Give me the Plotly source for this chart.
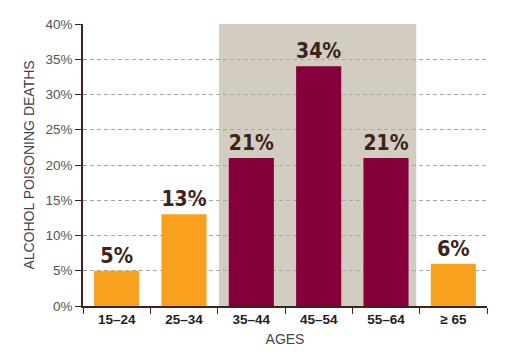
import plotly.graph_objects as go

categories = ["15–24", "25–34", "35–44", "45–54", "55–64", "≥ 65"]
values = [5, 13, 21, 34, 21, 6]
labels = ["5%", "13%", "21%", "34%", "21%", "6%"]
highlight = [False, False, True, True, True, False]

orange = "#F7A11E"
maroon = "#85003A"
colors = [maroon if h else orange for h in highlight]

fig = go.Figure()
fig.add_trace(go.Bar(
    x=categories, y=values, marker=dict(color=colors, line=dict(width=0)),
    width=0.67, text=labels, textposition="outside", cliponaxis=False,
    textfont=dict(family="DejaVu Sans Condensed", size=21.5, color="#3B2419", weight="bold"),
    hoverinfo="skip",
))

fig.add_shape(type="rect", xref="x", yref="y", x0=1.52, x1=4.45, y0=0, y1=40,
              fillcolor="#D3CCC1", line=dict(width=0), layer="below")

fig.update_layout(
    width=520, height=354,
    margin=dict(l=83, r=33, t=24, b=48),
    paper_bgcolor="white", plot_bgcolor="white",
    showlegend=False,
    font=dict(family="Liberation Sans", color="#555555"),
    bargap=0.33,
)
fig.update_xaxes(
    type="category", tickson="boundaries", ticks="outside", ticklen=6, tickcolor="#3B2419",
    showline=True, linecolor="#3B2419", linewidth=1.5, automargin=False,
    tickfont=dict(family="Liberation Sans", size=13.5, color="#222222", weight="bold"),
    title=dict(text="AGES", font=dict(size=14, color="#444444"), standoff=8),
    showgrid=False, range=[-0.5, 5.5],
)
fig.update_yaxes(
    range=[0, 40], dtick=5, ticksuffix="%", ticks="outside", ticklen=6, tickcolor="#3B2419",
    showline=True, linecolor="#3B2419", linewidth=1.5, automargin=False,
    tickfont=dict(size=13.5, color="#555555"),
    showgrid=True, gridcolor="#A8A8A8", griddash="4px,3px", gridwidth=1,
    title=dict(text="ALCOHOL POISONING DEATHS", font=dict(size=14, color="#444444"), standoff=8),
    zeroline=False,
)

fig.write_html("out.html")
